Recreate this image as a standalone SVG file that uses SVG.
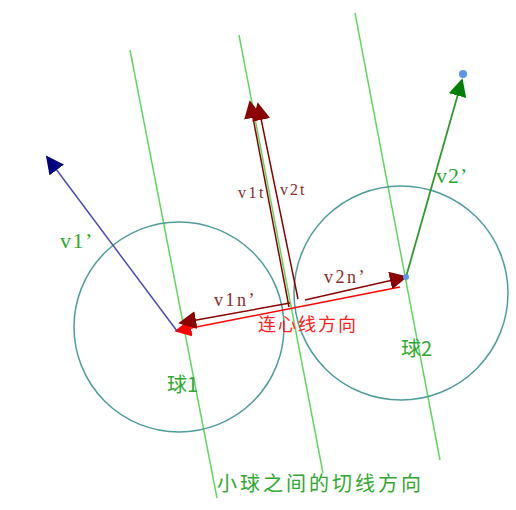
<svg xmlns="http://www.w3.org/2000/svg" width="516" height="510" viewBox="0 0 516 510">
<defs>
<marker id="mDRb" viewBox="0 0 10 10" refX="9" refY="5" markerWidth="18" markerHeight="18" markerUnits="userSpaceOnUse" orient="auto"><path d="M0,0 L10,5 L0,10 z" fill="#8b0000"/></marker>
<marker id="mR" viewBox="0 0 10 10" refX="9" refY="5" markerWidth="17" markerHeight="17" markerUnits="userSpaceOnUse" orient="auto"><path d="M0,0 L10,5 L0,10 z" fill="#ff0000"/></marker>
<marker id="mB" viewBox="0 0 10 10" refX="9" refY="5" markerWidth="18" markerHeight="18" markerUnits="userSpaceOnUse" orient="auto"><path d="M0,0 L10,5 L0,10 z" fill="#000080"/></marker>
<marker id="mG" viewBox="0 0 10 10" refX="9" refY="5" markerWidth="18" markerHeight="18" markerUnits="userSpaceOnUse" orient="auto"><path d="M0,0 L10,5 L0,10 z" fill="#008000"/></marker>
</defs>
<style>
.tan{stroke:#5fd85f;stroke-width:1.5;fill:none}
.ball{stroke:#4f9c9c;stroke-width:1.5;fill:none}
.lat{font-family:"Liberation Serif",serif}
.cjk{font-family:"Noto Sans CJK SC","Noto Sans CJK JP",sans-serif}
.g{fill:#2ea82e}
.dr{fill:#8b2a2a}
</style>
<rect width="516" height="510" fill="#ffffff"/>
<g id="tangent-lines">
<line class="tan" x1="130" y1="50" x2="217" y2="498"/>
<line class="tan" x1="239" y1="35" x2="323" y2="473"/>
<line class="tan" x1="355" y1="13" x2="440" y2="460"/>
</g>
<g id="ball1"><circle class="ball" cx="179" cy="327" r="105"/><text class="cjk g" x="167" y="392" font-size="20">球1</text></g>
<g id="ball2"><circle class="ball" cx="401" cy="293" r="107"/><text class="cjk g" x="401" y="356" font-size="20">球2</text></g>
<g id="connectors">
<line x1="400" y1="287" x2="176" y2="331" stroke="#ff0000" stroke-width="1.5" marker-end="url(#mR)"/>
<line x1="290" y1="303" x2="180" y2="323" stroke="#8b0000" stroke-width="1.5" marker-end="url(#mDRb)"/>
<line x1="305" y1="300" x2="406" y2="277" stroke="#8b0000" stroke-width="1.5" marker-end="url(#mDRb)"/>
<line x1="289" y1="307" x2="250" y2="102" stroke="#8b0000" stroke-width="1.5" marker-end="url(#mDRb)"/>
<line x1="298" y1="299" x2="258" y2="104" stroke="#8b0000" stroke-width="1.5" marker-end="url(#mDRb)"/>
<line x1="177" y1="331" x2="47" y2="157" stroke="#4b4bb0" stroke-width="1.5" marker-end="url(#mB)"/>
<line x1="406" y1="277" x2="462" y2="80" stroke="#2e9a2e" stroke-width="1.8" marker-end="url(#mG)"/>
</g>
<g id="points">
<circle cx="463" cy="74" r="4" fill="#5b95e8"/>
<circle cx="406" cy="277" r="3" fill="#5b95e8"/>
</g>
<g id="labels">
<text class="lat g" x="60" y="248" font-size="22" letter-spacing="1.5">v1’</text>
<text class="lat g" x="436" y="183" font-size="22" letter-spacing="1">v2’</text>
<text class="lat dr" x="238" y="198" font-size="16" letter-spacing="2.5">v1t</text>
<text class="lat dr" x="280" y="195" font-size="16" letter-spacing="2">v2t</text>
<text class="lat dr" x="214" y="306" font-size="18" letter-spacing="2.5">v1n’</text>
<text class="lat dr" x="324" y="283" font-size="18" letter-spacing="2.5">v2n’</text>
<text class="cjk" x="258" y="331" font-size="18" fill="#ff2020" letter-spacing="2">连心线方向</text>
<text class="cjk g" x="217" y="491" font-size="20" letter-spacing="3">小球之间的切线方向</text>
</g>
</svg>
